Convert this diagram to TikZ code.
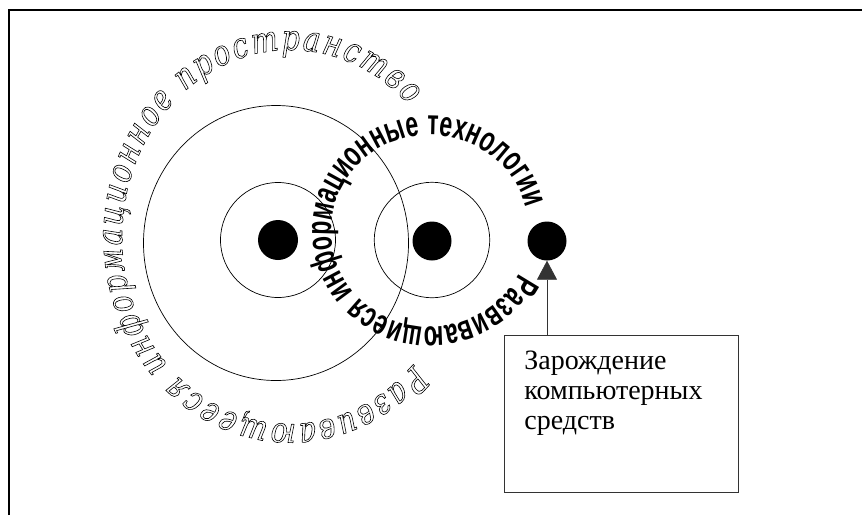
\documentclass[tikz,border=0pt]{standalone}
\usepackage{fontspec}
\usetikzlibrary{arrows.meta,decorations.text}
\newfontfamily\arcfont[FakeStretch=0.65]{Liberation Sans Bold}
\newfontfamily\ringfont[FakeStretch=0.8]{DejaVu Serif Italic}
\newfontfamily\boxfont{Liberation Serif}
\newcommand{\hollow}{\special{pdf:literal direct 1 Tr 0.6 w}}

\begin{document}
\begin{tikzpicture}[x=1pt,y=1pt]
\tikzset{
  ring/.style={black,line width=0.7pt},
  hub/.style={circle,fill=black,inner sep=0pt,minimum size=#1},
  note/.style={draw=black!80,line width=0.7pt,anchor=north west,inner sep=0pt,
    font=\boxfont\fontsize{28}{30}\selectfont}
}
\useasboundingbox (0,0) rectangle (862,-515);
\draw [black,line width=2pt] (9,-515) -- (9,-10) -- (862,-10);
\draw [ring] (276,-243) ellipse [x radius=132.5pt,y radius=137.5pt];
\draw [ring] (278,-240) circle [radius=57.5pt];
\draw [ring] (432,-240) circle [radius=57.7pt];
\node [hub=40pt] (dotA) at (278,-240) {};
\node [hub=39pt] (dotB) at (432,-241) {};
\node [hub=39pt] (dotC) at (547,-241) {};
\node [note] (box) at (504,-335) {\parbox[c][157pt][t]{234pt}{\raggedright\leftskip=20pt
  \vspace*{16pt}Зарождение\\компьютерных\\средств}};
\draw [black!80,line width=0.7pt,-{Triangle[width=20pt,length=19pt]}] (dotC |- box.north) -- (dotC.south);
\path [decorate,decoration={text along path,text align=fit to path,
  text={|\arcfont\fontsize{35.5}{35.5}\selectfont|Развивающиеся информационные технологии}}]
  (430,-231) ++(-26:99 and 96) arc [start angle=-26,end angle=-346,x radius=99pt,y radius=96pt];
\path [decorate,decoration={text along path,text align=fit to path,
  text={|\ringfont\fontsize{35.5}{35.5}\selectfont\hollow|Развивающееся информационное пространство}}]
  (290,-237) ++(-43:168 and 187) arc [start angle=-43,end angle=-315,x radius=168pt,y radius=187pt];
\end{tikzpicture}
\end{document}
